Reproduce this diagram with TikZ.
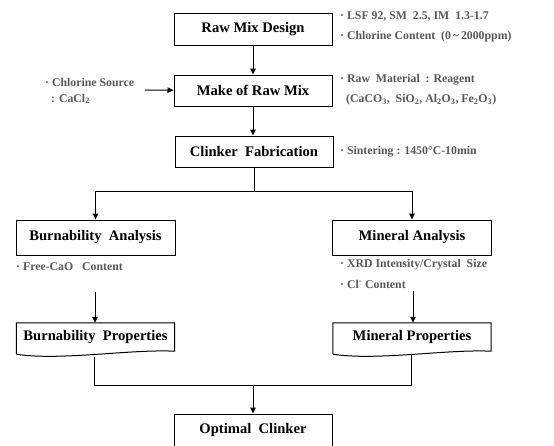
\documentclass[tikz,border=0pt]{standalone}
\usepackage{fontspec}
\setmainfont{Liberation Serif}
\usetikzlibrary{arrows.meta}
\definecolor{notegray}{RGB}{88,88,88}
\tikzset{
  box/.style={draw, line width=1pt, minimum width=158pt, minimum height=32pt, inner sep=0pt,
    font=\fontsize{14.6}{16}\selectfont\bfseries},
  doctext/.style={minimum width=158pt, minimum height=28pt, inner sep=0pt,
    font=\fontsize{14.6}{16}\selectfont\bfseries},
  note/.style={anchor=west, inner sep=0pt, text=notegray, font=\fontsize{11.8}{13}\selectfont\bfseries},
  conn/.style={line width=1pt},
  arr/.style={conn, -{Triangle[length=6pt,width=5.5pt]}}
}
\begin{document}
\begin{tikzpicture}[x=1pt,y=-1pt]
\useasboundingbox (0,0) rectangle (554,445);
\clip (0,0) rectangle (554,445);
% main boxes
\node[box] (rmd) at (253,29) {Raw Mix Design};
\node[box, minimum height=31pt] (mrm) at (253,90.5) {Make of Raw Mix};
\node[box, minimum height=31pt] (cf) at (254,151.5) {Clinker\ \ Fabrication};
\node[box, minimum width=159pt, minimum height=35pt] (ba) at (95.5,237.5) {Burnability\ \ Analysis};
\node[box, minimum width=159pt, minimum height=35pt] (ma) at (412,237.5) {Mineral Analysis};
\node[doctext] (bp) at (95.5,337) {Burnability\ \ Properties};
\node[doctext] (mp) at (412,337) {Mineral Properties};
\node[box] (oc) at (253,430) {Optimal\ \ Clinker};
% document shapes
\draw[conn] ([yshift=-3pt]bp.south west) -- (bp.north west) -- (bp.north east) -- (bp.south east)
  .. controls (130,349) and (60,361) .. ([yshift=-3pt]bp.south west);
\draw[conn] ([yshift=-3pt]mp.south west) -- (mp.north west) -- (mp.north east) -- (mp.south east)
  .. controls (447,349) and (377,361) .. ([yshift=-3pt]mp.south west);
% notes
\node[note] (n1) at (340,17) {· LSF 92, SM\ \ 2.5, IM\ \ 1.3-1.7};
\node[note] (n2) at (340,37) {· Chlorine Content\ \ (0\,\textasciitilde\,2000ppm)};
\node[note] (n3) at (340,80) {· Raw\ \ Material\ \ : Reagent};
\node[note] (n4) at (346,100) {(CaCO\textsubscript{3},\ \ SiO\textsubscript{2}, Al\textsubscript{2}O\textsubscript{3}, Fe\textsubscript{2}O\textsubscript{3})};
\node[note] (n5) at (340,152) {· Sintering : 1450°C-10min};
\node[note] (n6) at (45,82) {· Chlorine Source};
\node[note] (n7) at (51,99) {: CaCl\textsubscript{2}};
\node[note] (n8) at (16,267) {· Free-CaO\ \ \ Content};
\node[note] (n9) at (340,265) {· XRD Intensity/Crystal\ \ Size};
\node[note] (n10) at (340,284) {· Cl\textsuperscript{-} Content};
% coordinates
\coordinate (src) at (145,90);
\coordinate (sp) at (254,191);
\coordinate (fc) at (95,292);
\coordinate (cl) at (413,291);
\coordinate (bps) at (94,357);
\coordinate (mps) at (411,355);
\coordinate (mg) at (253,385);
% connectors
\draw[arr] (rmd) -- (mrm);
\draw[arr] (mrm) -- (cf.north -| mrm);
\draw[arr] (src) -- (mrm);
\draw[conn] (cf) -- (sp);
\draw[arr] (sp) -| (ba.north);
\draw[arr] (sp) -| (ma.north);
\draw[arr] (fc) -- (fc |- bp.north);
\draw[arr] (cl) -- (cl |- mp.north);
\draw[conn] (bps) |- (mg);
\draw[conn] (mps) |- (mg);
\draw[arr] (mg) -- (oc);
\end{tikzpicture}
\end{document}
